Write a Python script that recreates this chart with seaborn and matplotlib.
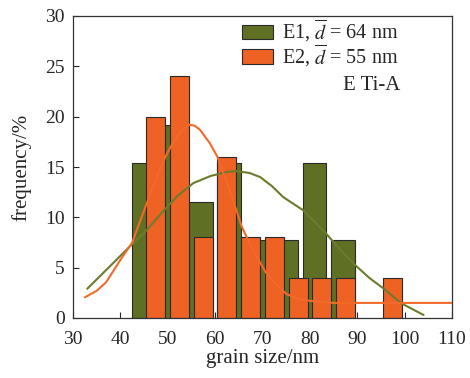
import matplotlib
matplotlib.use("Agg")
import matplotlib.pyplot as plt
import seaborn as sns
import pandas as pd
from matplotlib.patches import Patch

# ---- data ----
e1_size = [45, 51, 57, 63, 69, 75, 81, 87]
e1_freq = [15.4, 19.2, 11.5, 15.4, 7.7, 7.7, 15.4, 7.7]

e2_size = [47.5, 52.5, 57.5, 62.5, 67.5, 72.5, 77.5, 82.5, 87.5, 97.5]
e2_freq = [20.0, 24.0, 8.0, 16.0, 8.0, 8.0, 4.0, 4.0, 4.0, 4.0]

e1_fit_x = [33, 36, 39, 42.3, 45.5, 49, 52, 55.4, 59, 62.4, 64.5, 67.3, 69.5,
            72, 74.4, 78.6, 83.4, 86, 89.7, 92.5, 95.5, 99.3, 104]
e1_fit_y = [2.9, 4.3, 5.7, 7.25, 8.7, 10.6, 12.1, 13.4, 14.1, 14.5, 14.6, 14.4,
            14.0, 13.1, 12.0, 10.7, 8.4, 7.0, 5.2, 4.0, 2.95, 1.46, 0.3]

e2_fit_x = [32.5, 35, 37, 39.9, 42.5, 45.3, 47.5, 49.5, 50.6, 52.5, 54.5, 55.7,
            56.8, 58.9, 60.5, 62.5, 64.5, 65.6, 67.5, 69.5, 70.6, 72.5, 75,
            77.5, 80, 85, 90, 110]
e2_fit_y = [2.05, 2.7, 3.55, 5.7, 7.5, 11.05, 13.8, 16.0, 17.0, 18.4, 19.2, 19.1,
            18.7, 17.35, 16.0, 13.4, 10.7, 9.1, 7.2, 5.5, 4.6, 3.5, 2.4, 1.9,
            1.7, 1.5, 1.5, 1.5]

labels = [r"E1, $\overline{d}$ = 64 nm", r"E2, $\overline{d}$ = 55 nm"]
annot = "E Ti-A"
x_ticks = [30, 40, 50, 60, 70, 80, 90, 100, 110]
y_ticks = [0, 5, 10, 15, 20, 25, 30]

green = "#5f7025"
orange = "#ee6224"
green_line = "#6b7d2c"
orange_line = "#f26a2a"

sns.set_style("white")
plt.rcParams["font.family"] = ["Liberation Serif", "DejaVu Serif"]
plt.rcParams["mathtext.fontset"] = "stix"

fig = plt.figure(figsize=(4.7, 3.78), dpi=100)
ax = fig.add_axes([73 / 470, 60 / 378, 379 / 470, 302 / 378])

df1 = pd.DataFrame({"size": e1_size, "freq": e1_freq})
df2 = pd.DataFrame({"size": e2_size, "freq": e2_freq})

sns.barplot(data=df1, x="size", y="freq", native_scale=True, width=5 / 6,
            color=green, saturation=1, edgecolor="#2a2a2a", linewidth=0.8,
            ax=ax, zorder=2)
sns.barplot(data=df2, x="size", y="freq", native_scale=True, width=0.8,
            color=orange, saturation=1, edgecolor="#2a2a2a", linewidth=0.8,
            ax=ax, zorder=2.5)

sns.lineplot(x=e1_fit_x, y=e1_fit_y, sort=False, color=green_line, lw=1.5,
             ax=ax, zorder=4)
sns.lineplot(x=e2_fit_x, y=e2_fit_y, sort=False, color=orange_line, lw=1.5,
             ax=ax, zorder=4)

ax.set_xlim(30, 110)
ax.set_ylim(0, 30)
ax.set_xticks(x_ticks)
ax.set_yticks(y_ticks)
ax.set_xticklabels([str(t) for t in x_ticks])
ax.set_yticklabels([str(t) for t in y_ticks])
ax.tick_params(direction="in", length=4, width=0.8, labelsize=14,
               top=False, right=False, bottom=True, left=True)
ax.tick_params(axis="x", pad=9)
ax.tick_params(axis="y", pad=6)
for s in ax.spines.values():
    s.set_visible(True)
    s.set_color("#333333")
    s.set_linewidth(0.9)

ax.set_xlabel("grain size/nm", fontsize=15, labelpad=1)
ax.set_ylabel("frequency/%", fontsize=15, labelpad=10)

handles = [Patch(facecolor=green, edgecolor="#2a2a2a", linewidth=0.8),
           Patch(facecolor=orange, edgecolor="#2a2a2a", linewidth=0.8)]
ax.legend(handles, labels, loc="upper left", bbox_to_anchor=(0.446, 0.995),
          frameon=False, fontsize=14.5, handlelength=1.55, handleheight=0.74,
          handletextpad=0.45, labelspacing=-0.12, borderpad=0, borderaxespad=0)

ax.text(93.0, 23.1, annot, fontsize=15, ha="center", va="center")

fig.savefig("out.png", dpi=100)
